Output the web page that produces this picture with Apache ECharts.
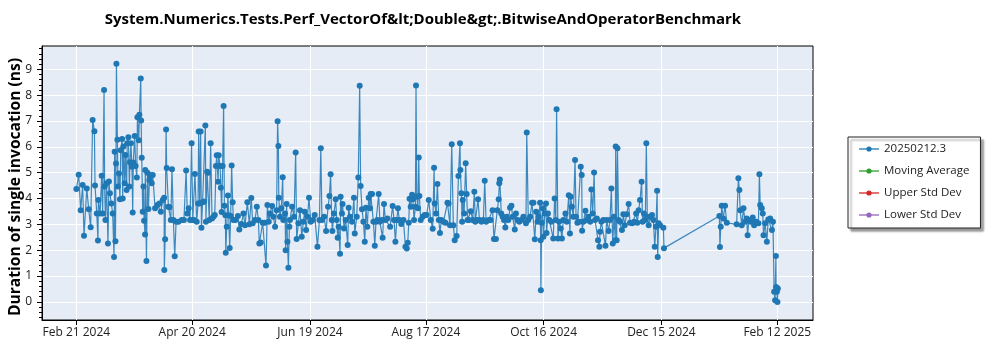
<!DOCTYPE html>
<html><head><meta charset="utf-8">
<script src="https://cdn.jsdelivr.net/npm/echarts@6/dist/echarts.min.js"></script>
<style>html,body{margin:0;padding:0;background:#fff}#c{width:1000px;height:350px}</style>
</head><body><div id="c"></div>
<script>
// Day offsets from the first run date (2024-02-21), fractional = several runs per day
const startDate = [2024, 1, 21];
const dayOffsets = [
0,1.2,2.2,3.2,3.9,5.3,6.3,7.3,8.3,9.2,
9.5,10.4,11.0,11.2,12.1,12.9,13.4,14.1,14.4,14.8,
15.4,16.1,16.6,17.1,17.8,18.5,19.2,19.5,19.9,20.2,
20.4,20.9,21.2,21.7,22.2,22.6,23.3,23.6,24.0,24.6,
25.0,25.6,25.9,26.5,27.0,27.3,27.8,28.3,28.7,29.0,
29.7,30.2,30.8,31.1,31.8,32.1,32.8,33.0,33.3,33.8,
34.2,34.5,35.0,35.1,35.7,36.2,36.7,37.2,37.5,38.4,
38.9,40.1,41.3,42.3,43.0,44.0,44.7,44.8,45.2,45.7,
46.0,46.9,47.4,48.1,48.7,49.4,50.1,50.8,52.0,53.7,
54.8,55.9,56.5,57.2,57.9,58.7,59.3,59.9,60.4,61.3,
62.0,62.3,62.8,63.3,63.7,64.3,65.0,65.7,66.0,66.6,
67.1,67.7,68.4,69.1,69.8,70.5,71.1,71.5,72.2,72.5,
73.2,73.6,74.0,74.5,75.0,75.4,75.9,76.1,76.6,77.2,
77.6,78.1,78.6,79.1,79.6,80.0,81.0,82.3,83.0,84.0,
85.1,85.9,87.1,88.1,89.1,89.8,91.0,91.9,92.7,93.2,
93.9,94.9,95.9,96.6,97.3,98.0,98.6,99.7,100.3,101.2,
102.0,102.5,102.9,103.1,103.7,104.4,105.1,105.4,106.3,106.6,
107.1,107.5,108.0,108.5,
108.8,109.9,110.9,111.7,112.2,113.1,113.9,114.8,115.6,116.3,
117.0,117.7,118.5,119.4,120.4,121.4,122.8,123.8,124.5,125.1,
126.2,127.2,128.2,128.9,129.5,130.1,130.4,131.2,132.1,132.6,
133.1,133.6,134.3,134.6,135.3,135.6,136.3,137.2,138.2,138.7,
139.4,140.4,141.4,141.8,142.8,143.6,144.3,144.8,145.5,146.2,
146.9,147.5,148.2,148.9,149.6,149.9,150.6,151.3,152.0,152.6,
153.3,154.0,154.6,155.5,156.0,156.7,157.4,158.4,159.8,161.1,
161.8,162.5,163.2,163.8,164.5,165.5,166.6,167.6,168.3,168.8,
169.3,169.7,170.3,171.0,171.4,172.0,172.7,173.0,173.4,174.0,
174.4,174.7,175.4,176.4,177.4,178.4,179.5,180.5,181.5,182.2,
182.5,183.2,183.9,184.6,185.2,185.9,187.0,188.0,189.0,189.6,
190.3,191.2,192.0,192.7,193.7,194.6,195.4,195.6,196.1,196.5,
196.8,197.5,198.3,198.8,199.3,199.8,200.9,201.9,202.7,203.2,
203.9,204.6,205.3,206.3,207.3,208.0,208.7,210.0,211.0,212.0,
212.7,213.7,214.4,215.1,215.4,215.7,216.4,217.1,217.8,218.5,
219.2,220.0,220.9,221.6,222.2,223.3,223.9,224.6,225.6,226.6,
227.7,229.0,229.4,230.2,
231.1,232.1,232.8,233.5,234.2,234.9,235.5,236.2,236.5,236.6,
237.0,237.5,237.9,238.6,239.2,239.5,240.2,240.9,241.9,242.9,
243.6,244.2,244.6,245.3,245.9,246.7,247.3,248.0,249.1,249.8,
250.8,251.4,251.8,252.4,253.1,254.0,254.5,255.2,256.2,256.9,
257.4,257.6,258.3,259.3,260.0,260.8,261.7,262.3,263.0,263.7,
264.2,265.1,265.7,266.4,266.7,267.4,268.4,269.5,270.1,271.1,
271.8,272.5,273.2,273.8,274.5,274.7,275.2,275.6,276.2,276.9,
277.9,278.6,279.3,280.3,281.3,282.0,283.1,284.1,285.1,285.7,
286.4,287.1,287.9,288.4,289.1,289.8,290.3,290.8,291.5,292.2,
293.2,293.9,294.6,295.2,295.8,296.1,296.6,297.3,299.0,299.3,
327.5,327.8,328.2,328.7,329.5,330.4,331.3,336.3,337.2,337.7,
338.1,338.9,339.8,340.6,341.4,341.9,342.5,343.5,344.5,345.2,
346.2,347.4,347.9,348.3,349.1,349.6,350.0,350.8,351.7,352.4,
353.4,354.3,354.8,355.4,355.9,356.3,356.4,356.8,357.1,357.3
];
// Duration of single invocation (ns)
const durations = [
4.37,4.92,3.55,4.52,2.56,4.39,3.58,2.89,7.04,6.6,
4.5,3.42,2.38,3.94,3.42,4.88,3.42,8.2,4.46,3.17,
4.59,2.26,4.66,4.2,3.81,3.42,1.74,5.81,2.35,5.35,
9.21,6.27,4.46,4.97,3.97,5.87,6.3,4.0,6.01,4.59,
5.68,4.33,6.14,6.37,4.46,5.4,6.14,5.23,3.46,5.39,
6.42,5.26,4.81,7.14,6.25,7.24,8.64,7.02,5.58,3.49,
4.46,3.14,2.61,5.1,1.58,5.0,3.59,4.72,4.91,4.59,
4.91,3.62,3.75,3.81,3.49,3.94,4.03,1.23,2.42,6.67,
5.18,3.68,3.66,3.17,5.13,3.17,1.77,3.1,3.1,3.17,
3.17,5.08,3.42,3.62,3.17,6.14,3.17,3.17,4.95,3.1,
3.81,6.59,3.81,6.59,2.87,3.86,3.88,6.82,3.1,5.04,
5.0,3.17,6.14,3.23,3.29,3.36,5.26,5.67,4.65,5.67,
5.26,4.42,3.48,5.26,7.58,3.72,3.35,1.9,2.91,4.12,
3.35,2.09,3.32,5.28,3.86,3.17,3.17,3.32,2.8,3.01,
3.42,2.97,3.86,3.0,4.02,3.04,3.17,3.68,3.17,2.26,
2.3,3.06,3.06,1.41,3.75,3.1,3.42,3.71,3.29,2.91,
3.55,6.99,6.03,4.03,3.29,3.62,4.82,3.17,3.42,2.0,
3.79,2.33,1.32,2.91,
3.17,3.68,3.29,5.78,2.43,3.04,3.55,2.52,3.1,3.49,
2.78,3.29,4.03,3.1,3.17,3.36,2.13,3.17,5.94,3.17,
3.29,2.74,3.68,4.1,4.94,3.17,2.74,3.42,3.97,3.17,
2.48,2.91,1.86,4.07,3.42,3.79,2.84,3.17,2.2,3.64,
3.29,3.1,4.03,2.65,3.29,4.81,8.36,4.48,3.58,3.1,
2.33,3.64,2.91,4.03,3.62,4.17,4.17,3.1,2.17,3.1,
3.17,4.17,3.1,3.17,2.48,3.79,3.17,3.23,2.91,3.71,
3.17,2.33,3.17,3.62,3.17,3.01,3.17,2.13,2.07,2.29,
3.06,3.99,3.68,4.15,3.97,3.17,3.68,8.37,4.07,3.62,
5.59,4.1,3.17,3.29,3.36,3.36,3.94,3.17,2.83,5.19,
3.81,3.42,4.56,3.17,2.67,3.17,3.1,3.06,3.84,3.81,
2.97,6.1,2.97,2.39,2.55,4.87,6.14,5.1,4.2,3.1,
3.94,3.42,5.36,4.17,3.17,3.17,3.51,3.17,4.26,3.1,
3.17,3.97,3.17,3.1,3.17,4.69,3.1,3.17,3.17,3.55,
2.43,2.43,3.55,3.97,4.59,4.74,3.42,3.29,3.17,2.88,
3.29,3.17,3.64,3.72,3.29,2.8,3.42,3.17,3.1,3.17,
3.29,3.04,6.55,3.17,
3.29,3.84,3.84,2.42,3.49,3.1,3.29,3.84,2.39,0.45,
3.06,3.62,2.52,3.42,3.81,2.67,3.42,3.17,3.1,2.45,
4.0,3.17,7.45,2.45,3.1,2.84,2.45,3.17,3.42,3.1,
4.13,2.65,4.07,3.68,3.29,5.49,3.29,3.06,3.1,5.23,
4.91,2.75,3.1,3.53,3.17,3.29,3.1,4.35,3.42,5.01,
3.17,3.23,2.39,2.13,2.71,3.1,3.17,2.17,3.17,2.74,
3.17,4.39,2.26,3.29,2.39,6.01,2.39,5.94,3.17,3.1,
2.78,3.39,2.97,3.39,3.79,3.06,3.04,3.1,3.42,3.06,
3.55,3.94,4.65,3.1,3.42,3.17,6.14,3.29,2.97,3.29,
3.36,3.17,2.13,2.91,4.3,1.74,3.04,2.97,2.87,2.08,
3.32,2.12,2.91,3.72,3.23,3.72,3.06,3.0,4.78,4.33,
3.55,2.97,3.62,3.1,3.23,2.58,3.17,3.1,3.27,2.97,
3.1,3.04,4.94,3.75,3.62,3.42,2.58,3.04,2.33,3.19,
3.23,2.78,3.1,0.39,0.06,1.78,0.58,0.39,0.0,0.52
];
const xTickDates = ['2024-02-21','2024-04-20','2024-06-19','2024-08-17','2024-10-16','2024-12-15','2025-02-12'];
const xTickLabels = ['Feb 21 2024','Apr 20 2024','Jun 19 2024','Aug 17 2024','Oct 16 2024','Dec 15 2024','Feb 12 2025'];
const yTickValues = [0,1,2,3,4,5,6,7,8,9];
const legendNames = ['20250212.3','Moving Average','Upper Std Dev','Lower Std Dev'];
const seriesColors = ['#1f77b4','#2ca02c','#d62728','#9467bd'];
const titleText = 'System.Numerics.Tests.Perf_VectorOf&lt;Double&gt;.BitwiseAndOperatorBenchmark';
const yAxisTitle = 'Duration of single invocation (ns)';

const DAY = 86400000;
const t0 = Date.UTC(startDate[0], startDate[1], startDate[2]);
const points = dayOffsets.map((d, i) => [t0 + d * DAY, durations[i]]);
const xTickVals = xTickDates.map(s => Date.parse(s + 'T00:00:00Z'));
const yMinorVals = [];
for (let k = -3; k <= 49; k++) { if (k % 5 !== 0) yMinorVals.push(+(k * 0.2).toFixed(1)); }

const FONT = "'Open Sans', 'Noto Sans', sans-serif";
const chart = echarts.init(document.getElementById('c'), null, {renderer: 'canvas'});
chart.setOption({
  animation: false,
  backgroundColor: '#ffffff',
  textStyle: {fontFamily: FONT},
  title: {
    text: titleText, left: 418, top: 7, textAlign: 'center',
    textStyle: {fontSize: 15, fontWeight: 'bold', color: '#000', fontFamily: FONT}
  },
  grid: {left: 42, right: 187, top: 46, bottom: 30, show: true, containLabel: false,
         outerBoundsMode: 'none',
         backgroundColor: '#E5ECF6', borderColor: '#000', borderWidth: 1},
  legend: {
    orient: 'vertical', left: 848, top: 137,
    padding: [5, 11, 6, 10], itemGap: 8, itemWidth: 20, itemHeight: 6.5,
    backgroundColor: '#fff', borderColor: '#222', borderWidth: 1,
    shadowColor: 'rgba(0,0,0,0.4)', shadowBlur: 2, shadowOffsetX: 3, shadowOffsetY: 3,
    lineStyle: {opacity: 0.65},
    textStyle: {fontSize: 11.5, lineHeight: 14, color: '#222', fontFamily: FONT},
    data: legendNames
  },
  xAxis: {
    type: 'value', min: t0 - 17.5 * DAY, max: t0 + 375.2 * DAY,
    axisLine: {show: true, onZero: false, lineStyle: {color: '#000', width: 1}},
    axisTick: {show: true, customValues: xTickVals, length: 5, lineStyle: {color: '#000'}},
    axisLabel: {customValues: xTickVals, fontSize: 12, color: '#222', margin: 7, fontFamily: FONT,
      formatter: v => { const i = xTickVals.indexOf(v); return i >= 0 ? xTickLabels[i] : ''; }},
    splitLine: {show: true, lineStyle: {color: '#fff', width: 1}}
  },
  yAxis: [{
    type: 'value', min: -0.7, max: 9.9,
    name: yAxisTitle, nameLocation: 'middle', nameGap: 18, nameMoveOverlap: false,
    nameTextStyle: {fontSize: 15.6, fontWeight: 'bold', color: '#000', fontFamily: FONT, padding: [0, 8, 0, 0]},
    axisLine: {show: true, onZero: false, lineStyle: {color: '#000', width: 1}},
    axisTick: {show: true, customValues: yTickValues, length: 5, lineStyle: {color: '#000'}},
    axisLabel: {customValues: yTickValues, fontSize: 12, color: '#222', margin: 10, fontFamily: FONT},
    splitLine: {show: true, lineStyle: {color: '#fff', width: 1}}
  }, {
    type: 'value', min: -0.7, max: 9.9, position: 'left', offset: 0,
    axisLine: {show: false},
    axisTick: {show: true, customValues: yMinorVals, length: 3, lineStyle: {color: '#000'}},
    axisLabel: {show: false}, splitLine: {show: false}
  }],
  series: [{
    name: legendNames[0], type: 'line', data: points,
    symbol: 'circle', symbolSize: 6, showSymbol: true,
    itemStyle: {color: seriesColors[0]},
    lineStyle: {color: seriesColors[0], width: 1.2, opacity: 0.85}
  }].concat(legendNames.slice(1).map((n, i) => ({
    name: n, type: 'line', data: [], symbol: 'circle', symbolSize: 6,
    itemStyle: {color: seriesColors[i + 1]}, lineStyle: {color: seriesColors[i + 1], width: 1.2}
  })))
});
</script></body></html>
